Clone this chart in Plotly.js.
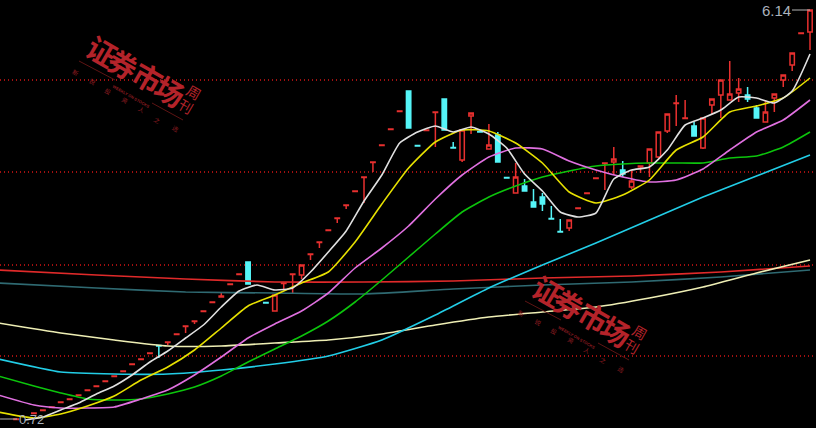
<!DOCTYPE html>
<html><head><meta charset="utf-8">
<script src="https://cdn.plot.ly/plotly-3.0.1.min.js"></script>
<style>html,body{margin:0;padding:0;background:#000;overflow:hidden}#c{width:816px;height:428px}</style>
</head><body><div id="c"></div>
<script>
// Candles: index along the time axis and open/high/low/close on a 0-428 price index.
var upIdx  =[1,3,4,5,6,7,8,9,10,11,12,13,14,15,16,18,19,20,21,22,23,24,25,26,30,31,32,33,34,35,36,37,38,39,40,41,42,43,44,47,48,51,52,54,57,63,64,65,66,67,68,70,71,72,73,74,75,76,78,79,80,81,82,85,86,87,88,89,90];
var upOpen =[8.5,14.5,17.5,20.5,25.5,28.5,32.5,37.5,41.5,46.5,51.5,56.5,63.5,68.5,74.5,85.5,93.5,101.5,106.5,116.5,125.5,131,143.5,153.5,117,144.5,153.5,153,173.5,185.5,197.5,209.5,222.5,236.5,250.5,265.5,282.5,298.5,316.5,297.5,315.5,268,312,279,235,200,219.5,234.5,249.5,264.5,266,241,261,265,271,297,324.5,309.5,280,323,333,328,335,306,330,348,363,394.5,396];
var upHigh =[9,15,18,21,26,29,33,38,42,47,52,57,64,69,75,86,94,102,107,117,126,135,144,154,133,145,154,163,174,186,198,210,223,237,251,266,283,299,317,298,316,298,315,304,265,208,220,235,250,265,281,258,262,279,296,314,333,328,310,329,348,367,350,328,334,353,375,395,418];
var upLow  =[8.5,14.5,17.5,20.5,25.5,28.5,32.5,37.5,41.5,46.5,51.5,56.5,63.5,68.5,74.5,83,93.5,95,104,116.5,125.5,131,143.5,153.5,117,138,135,149,168,180,197.5,205,219,236.5,225,256,282.5,298.5,316.5,297.5,281,266,294,279,235,197,219.5,234.5,249.5,238,253,239,255,251,270,295,302,309.5,279,314,310,328,326,306,316,341,357,394.5,378];
var upClose=[9,15,18,21,26,29,33,38,42,47,52,57,64,69,75,86,94,102,107,117,126,132,144,154,133,145,154,163,174,186,198,210,223,237,251,266,283,299,317,298,316,298,315,283,251,208,220,235,250,265,269,247,262,279,296,314,325,310,310,329,348,334,339,316,334,353,375,395,418];
var dnIdx  =[17,27,29,45,46,49,50,53,55,56,58,59,60,61,62,69,77,83,84];
var dnOpen =[82.5,166,125.5,337,282.5,329,280.5,296.5,293,250.5,242,226,231,209.5,196.5,258,302,333,320];
var dnHigh =[82.5,166,125.5,337,282.5,329,286,296.5,296,251,249,239,235,222,209,267,306,341,323];
var dnLow  =[70,144,125,300,282,298,280,296,266,250,237,221,217,209,196,251,292,326,310];
var dnClose=[82,144,125,300,282,298,280,296,266,250,237,221,224,209,196,254,292,329,310];

// Moving averages on the same index.
var whiteIdx=[2,4,6,8,10,12,14,16,18,20,22,24,26,28,30,32,34,36,38,40,42,44,46,48,50,52,54,56,58,60,62,64,66,68,70,72,74,76,78,80,82,84,86,88,90];
var whiteVal=[8,11,18,25,34,42,53,66,77,90,103,121,137,143,138,140,156,176,197,227,253,285,296,302,296,301,294,280,254,237,216,211,215,249,258,261,278,303,310,318,331,330,325,337,374];
var step3=[-1,3,6,9,12,15,18,21,24,27,30,33,36,39,42,45,48,51,54,57,60,63,66,69,72,75,78,81,84,87,90];
var yellowVal =[16,10,14,22,32,48,61,78,100,122,133,145,156,186,224,260,286,298,297,285,265,236,225,233,248,278,291,316,322,330,350];
var magentaVal=[33,23,20,20,21,29,38,53,71,90,104,117,135,160,180,202,229,253,271,280,279,267,258,251,246,248,259,278,296,308,328];
var greenVal  =[52,42,35,29,28,29,34,41,52,66,79,92,107,126,148,171,194,216,231,242,251,257,262,264,265,265,265,270,272,281,296];
var step6=[-1,6,12,18,24,30,36,42,48,54,60,66,72,78,84,90];
var cyanVal=[69,56,54,54,58,64,72,88,113,140,163,185,208,231,252,273];
var paleVal=[105,95,88,82,82,85,88,94,103,111,116,121,130,141,155,168];
var step10=[-1,10,20,30,40,50,60,70,80,90];
var redVal =[158,153,149,146,146,147,150,152,156,162];
var tealVal=[145,140,136,135,134,139,143,146,151,158];

var gridLevels=[348,256,163,72];
var brandChars=['证','券','市','场'];
var brandSide=['周','刊'];
var sloganChars=['新','锐','投','资','人','之','选'];

var RED='#e8302f',CY='#55f5f8';
function candle(x,o,h,l,c,col,fill){return {type:'candlestick',x:x,open:o,high:h,low:l,close:c,width:0.68,hoverinfo:'skip',showlegend:false,
  increasing:{line:{color:col,width:1.5},fillcolor:fill},decreasing:{line:{color:col,width:1.5},fillcolor:fill}};}
function line(x,y,col,w){return {type:'scatter',mode:'lines',x:x,y:y,line:{color:col,width:w||1.6,shape:'spline',smoothing:0.5},hoverinfo:'skip',showlegend:false};}
var traces=[
  candle(upIdx,upOpen,upHigh,upLow,upClose,RED,'#000'),
  candle(dnIdx,dnOpen,dnHigh,dnLow,dnClose,CY,CY),
  line(step10,tealVal,'#2f6a72'),
  line(step10,redVal,'#e02a2a'),
  line(step6,paleVal,'#eeeeb4'),
  line(step6,cyanVal,'#22cde6'),
  line(step3,greenVal,'#0cc40c'),
  line(step3,magentaVal,'#e070e0'),
  line(step3,yellowVal,'#e6e000'),
  line(whiteIdx,whiteVal,'#e0e0e0')
];

var WM='#b4232a',W=816,H=428,ann=[],shapes=[];
function txt(t,x,y,size,color,bold,fam){ann.push({text:bold?'<b>'+t+'</b>':t,xref:'paper',yref:'paper',x:x/W,y:1-y/H,xanchor:'center',yanchor:'middle',showarrow:false,textangle:30,
  font:{family:fam||'"Noto Sans CJK SC"',size:size,color:color}});}
function rule(a,b,c,d){shapes.push({type:'line',xref:'paper',yref:'paper',x0:a/W,x1:c/W,y0:1-b/H,y1:1-d/H,line:{color:'#5e1414',width:1}});}
[[0,0],[446,240]].forEach(function(o){
  var mx=[102,123,148,170],my=[50,63,76,90];
  brandChars.forEach(function(ch,i){txt(ch,mx[i]+o[0],my[i]+o[1],29,WM,true);});
  txt(brandSide[0],194+o[0],92+o[1],14,WM,false);
  txt(brandSide[1],186+o[0],106+o[1],14,WM,false);
  var sx=[75,92,108,125,141,157,175],sy=[73,82,91,100,110,120,129];
  sloganChars.forEach(function(ch,i){txt(ch,sx[i]+o[0],sy[i]+o[1],6,'#8f1c20',false);});
  txt('WEEKLY ON STOCKS',131+o[0],97+o[1],4,'#8f1c20',true,'Liberation Sans');
  rule(79+o[0],61+o[1],115+o[0],80+o[1]);
  rule(152+o[0],103+o[1],183+o[0],120+o[1]);
});
ann.push({text:'6.14',x:90,y:418,xref:'x',yref:'y',ax:-34,ay:0,showarrow:true,arrowhead:0,arrowwidth:1,arrowcolor:'#b4b4b4',
  font:{family:'"Liberation Sans"',size:15,color:'#aab2bc'}});
ann.push({text:'0.72',x:-0.8,y:9,xref:'x',yref:'y',ax:31,ay:0,showarrow:true,arrowhead:0,arrowwidth:1,arrowcolor:'#b4b4b4',
  font:{family:'"Liberation Sans"',size:13,color:'#aab2bc'}});

Plotly.newPlot('c',traces,{
  width:W,height:H,margin:{l:0,r:0,t:0,b:0,pad:0},paper_bgcolor:'#000',plot_bgcolor:'#000',showlegend:false,
  xaxis:{range:[-0.807,90.67],showgrid:false,zeroline:false,showticklabels:false,ticks:'',showline:false,rangeslider:{visible:false}},
  yaxis:{range:[0,428],tickvals:gridLevels,showgrid:true,gridcolor:'#a01010',griddash:'1px,3px',gridwidth:1.5,zeroline:false,showticklabels:false,ticks:'',showline:false},
  annotations:ann,shapes:shapes
},{staticPlot:true,displayModeBar:false});
</script></body></html>
